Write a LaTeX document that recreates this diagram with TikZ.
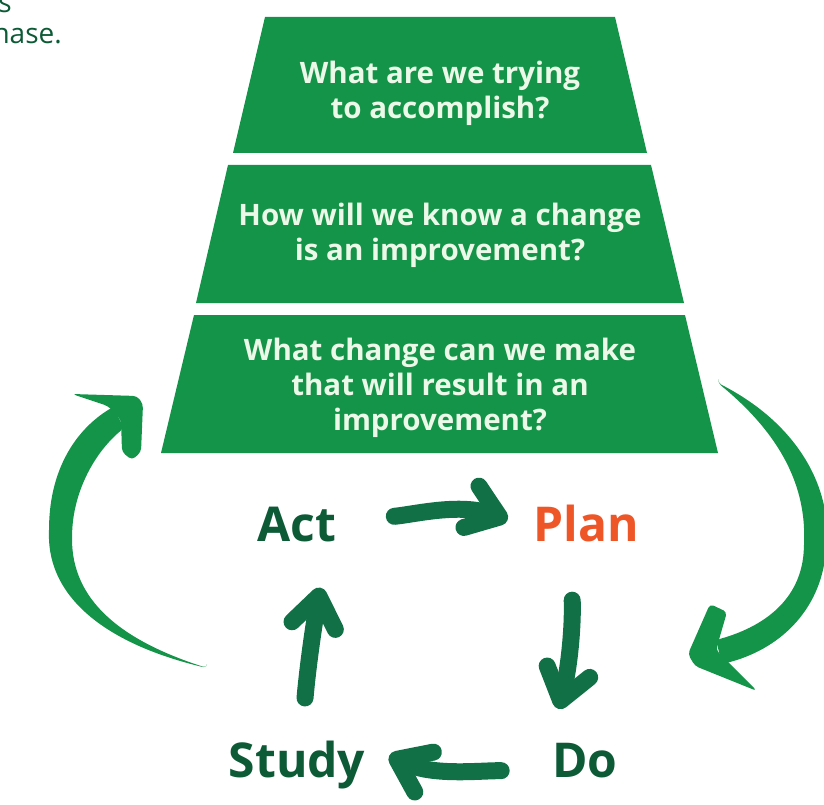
\documentclass[tikz,border=0pt]{standalone}
\usepackage{fontspec}
\setmainfont{Open Sans}
\usetikzlibrary{arrows.meta}
\definecolor{pdsagreen}{RGB}{20,148,72}
\definecolor{pdsadark}{RGB}{12,90,54}
\definecolor{pdsaarrow}{RGB}{18,112,70}
\definecolor{pdsamint}{RGB}{236,249,232}
\definecolor{pdsaplan}{RGB}{238,86,40}
\tikzset{
  qbox/.style={fill=pdsagreen},
  question/.style={inner sep=0pt,text=pdsamint,align=center,
    font=\bfseries\fontsize{29.5}{35}\selectfont},
  phase/.style={text=pdsadark,font=\bfseries\fontsize{48}{48}\selectfont,
    text height=35pt,text depth=10pt,inner sep=2pt,anchor=base},
  cyc/.style={draw=pdsaarrow,line width=17pt,line cap=round,
    -{Straight Barb[round,length=30pt,width=44pt]}},
  bigarrow/.style={fill=pdsagreen,rounded corners=4pt},
  note/.style={text=pdsadark,font=\fontsize{28}{34}\selectfont,inner sep=0pt},
}

\begin{document}
\begin{tikzpicture}[x=1pt,y=-1pt]
  \useasboundingbox (0,0) rectangle (824,805);
  \clip (0,0) rectangle (824,805);

  \node[note,anchor=base east] (note1) at (12,13) {s};
  \node[note,anchor=base east] (note2) at (62,44) {hase.};

  % the three questions, stacked as one cut pyramid
  \fill[qbox] (265,17) -- (615,17) -- (647,153) -- (233,153) -- cycle;
  \fill[qbox] (228,165) -- (651,165) -- (684,303) -- (196,303) -- cycle;
  \fill[qbox] (194,315) -- (685,315) -- (718,453) -- (161,453) -- cycle;
  \node[question] (aim) at (440,93) {What are we trying\\to accomplish?};
  \node[question] (measure) at (440,235) {How will we know a change\\is an improvement?};
  \node[question] (change) at (440,388) {What change can we make\\that will result in an\\improvement?};

  % PDSA cycle
  \node[phase] (act) at (297,541) {Act};
  \node[phase,text=pdsaplan] (plan) at (586,541) {Plan};
  \node[phase] (do) at (585,777) {Do};
  \node[phase] (study) at (297,777) {Study};

  \draw[cyc,shorten <=56pt,shorten >=25pt] (act.10) to[out=5,in=160] (plan.west);
  \draw[cyc,shorten <=47pt,shorten >=32pt] (plan.-122) to[out=-88,in=75] (do.north west);
  \draw[cyc,shorten <=49pt,shorten >=24pt] (do.190) to[out=180,in=-25] (study.15);
  \draw[cyc,shorten <=42pt,shorten >=35pt] (study.80) to[out=85,in=-100] (act.-40);

  % outer loop back to the questions
  \fill[bigarrow] (207,668) .. controls (110,645) and (48,600) .. (49,530)
    .. controls (50,470) and (75,430) .. (113,407)
    -- (124,428) .. controls (95,452) and (74,490) .. (72,535)
    .. controls (72,600) and (120,640) .. (207,668) -- cycle;
  \fill[bigarrow] (72,394) -- (137,396) -- (143,404) -- (141,452) -- (132,460)
    -- (122,452) -- (121,420) -- (108,406) -- cycle;

  \fill[bigarrow] (718,383) .. controls (800,425) and (832,490) .. (826,550)
    .. controls (820,610) and (780,650) .. (722,664)
    -- (716,640) .. controls (770,625) and (802,595) .. (804,545)
    .. controls (806,480) and (775,430) .. (718,383) -- cycle;
  \fill[bigarrow] (710,604) -- (688,654) -- (695,666) -- (757,691) -- (716,650)
    -- (727,612) -- cycle;
\end{tikzpicture}
\end{document}
